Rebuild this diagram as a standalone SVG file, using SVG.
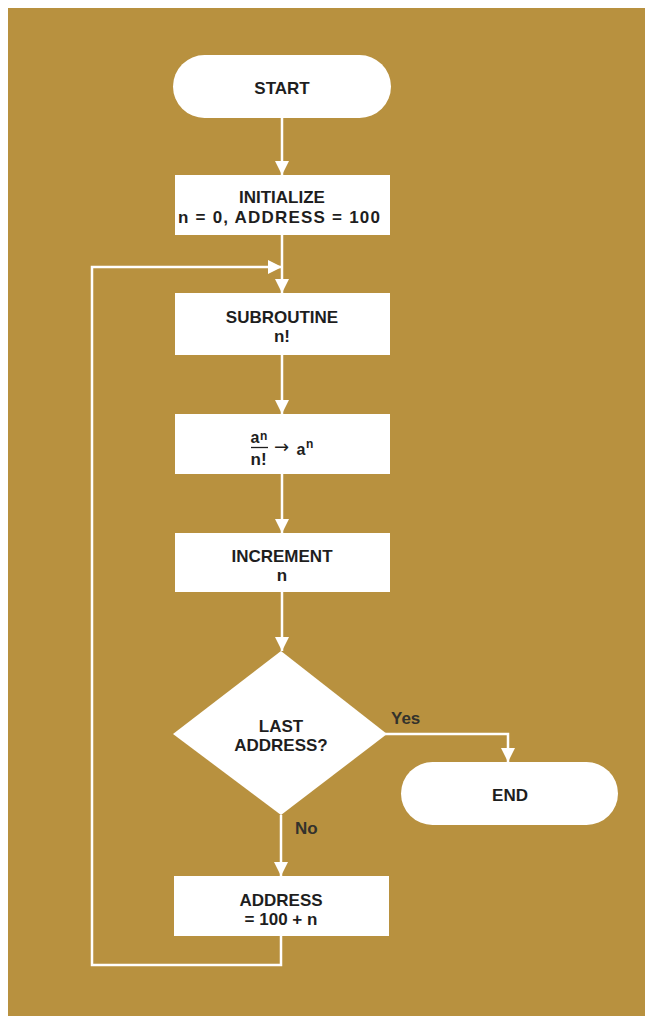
<svg xmlns="http://www.w3.org/2000/svg" width="654" height="1021" viewBox="0 0 654 1021">
<defs>
<style>
.bg{fill:#b8913f}
.node{fill:#ffffff}
.t{font-family:"Liberation Sans",Arial,sans-serif;font-size:17px;font-weight:bold;fill:#1e1e1e;text-anchor:middle}
.lbl{font-family:"Liberation Sans",Arial,sans-serif;font-size:17px;font-weight:bold;fill:#33322c;text-anchor:start}
.m{font-family:"Liberation Sans",Arial,sans-serif;font-weight:bold;fill:#1e1e1e}
.c{fill:none;stroke:#ffffff;stroke-width:2.5}
</style>
<marker id="ah" viewBox="0 0 14 14" refX="14" refY="7" markerWidth="14" markerHeight="14" markerUnits="userSpaceOnUse" orient="auto">
<path d="M0,0 L14,7 L0,14 Z" fill="#ffffff"/>
</marker>
</defs>
<rect x="0" y="0" width="654" height="1021" fill="#ffffff"/>
<rect class="bg" x="8" y="8" width="637" height="1008"/>

<g id="connectors">
<line class="c" x1="282" y1="118" x2="282" y2="175" marker-end="url(#ah)"/>
<line class="c" x1="282" y1="235" x2="282" y2="293" marker-end="url(#ah)"/>
<line class="c" x1="282" y1="355" x2="282" y2="414" marker-end="url(#ah)"/>
<line class="c" x1="282" y1="474" x2="282" y2="533" marker-end="url(#ah)"/>
<line class="c" x1="282" y1="592" x2="282" y2="651" marker-end="url(#ah)"/>
<polyline class="c" points="385,734 508,734 508,762" marker-end="url(#ah)"/>
<line class="c" x1="281" y1="815" x2="281" y2="876" marker-end="url(#ah)"/>
<polyline class="c" points="281,936 281,965 92,965 92,267 282,267" marker-end="url(#ah)"/>
</g>

<g id="start">
<rect class="node" x="173" y="55" width="218" height="63" rx="31.5"/>
<text class="t" x="282" y="94">START</text>
</g>

<g id="initialize">
<rect class="node" x="175" y="175" width="215" height="60"/>
<text class="t" x="282" y="203">INITIALIZE</text>
<text class="t" x="279" y="223" textLength="202" lengthAdjust="spacing">n = 0,  ADDRESS = 100</text>
</g>

<g id="subroutine">
<rect class="node" x="175" y="293" width="215" height="62"/>
<text class="t" x="282" y="323">SUBROUTINE</text>
<text class="t" x="282" y="342">n!</text>
</g>

<g id="divide">
<rect class="node" x="175" y="414" width="215" height="60"/>
<text class="m" x="250.5" y="443" font-size="16">a</text>
<text class="m" x="260" y="440" font-size="12">n</text>
<line x1="251" y1="447.5" x2="268" y2="447.5" stroke="#1e1e1e" stroke-width="1.3"/>
<text class="m" x="250.5" y="465" font-size="17">n!</text>
<text x="274" y="453" font-family="DejaVu Sans,sans-serif" font-size="18" fill="#1e1e1e">→</text>
<text class="m" x="296.5" y="455" font-size="16">a</text>
<text class="m" x="306" y="448" font-size="12">n</text>
</g>

<g id="increment">
<rect class="node" x="175" y="533" width="215" height="59"/>
<text class="t" x="282" y="562">INCREMENT</text>
<text class="t" x="282" y="581">n</text>
</g>

<g id="decision">
<polygon class="node" points="281,651 387,734 281,815 173,734"/>
<text class="t" x="281" y="732">LAST</text>
<text class="t" x="281" y="751">ADDRESS?</text>
</g>
<text class="lbl" x="391" y="724">Yes</text>
<text class="lbl" x="295" y="834">No</text>

<g id="end">
<rect class="node" x="401" y="762" width="217" height="63" rx="31.5"/>
<text class="t" x="510" y="801">END</text>
</g>

<g id="address">
<rect class="node" x="174" y="876" width="215" height="60"/>
<text class="t" x="281" y="906">ADDRESS</text>
<text class="t" x="281" y="925">= 100 + n</text>
</g>
</svg>
